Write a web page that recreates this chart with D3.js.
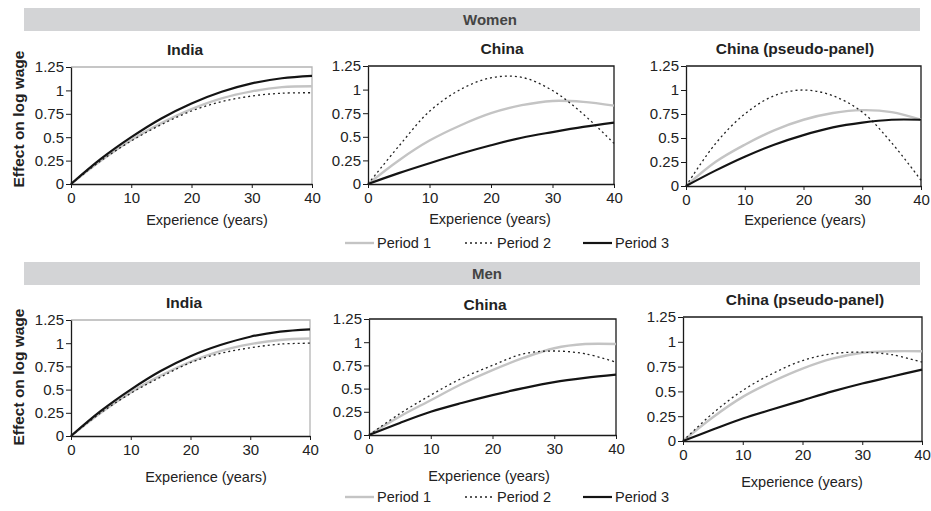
<!DOCTYPE html>
<html lang="en">
	<head>
		<meta charset="utf-8">
		<title>Experience profiles</title>
		<script src="https://d3js.org/d3.v7.min.js"></script>
		<style type="text/css">
			body, html {
				margin: 0;
				background: #fff;
			}
			svg {
				display: block;
				font-family: "Liberation Sans", Arial, sans-serif;
			}
		</style>
	</head>
	<body>
		<svg width="931" height="511"></svg>
		<script type="text/javascript">
		// experience grid (years) and ticks
		var years = [0, 5, 10, 15, 20, 25, 30, 35, 40];
		var xTicks = [0, 10, 20, 30, 40];
		var yTicks = [0, 0.25, 0.5, 0.75, 1, 1.25];
		var yTickLabels = ["0", "0.25", "0.5", "0.75", "1", "1.25"];
		var periods = ["Period 1", "Period 2", "Period 3"];

		// Women
		var womenIndiaP1 = [0, 0.25, 0.47, 0.65, 0.80, 0.915, 0.99, 1.035, 1.045];
		var womenIndiaP2 = [0, 0.25, 0.46, 0.635, 0.78, 0.88, 0.94, 0.97, 0.975];
		var womenIndiaP3 = [0, 0.27, 0.50, 0.70, 0.86, 0.985, 1.075, 1.13, 1.155];
		var womenChinaP1 = [0, 0.25, 0.46, 0.62, 0.75, 0.835, 0.88, 0.87, 0.83];
		var womenChinaP2 = [0, 0.40, 0.77, 1.0, 1.125, 1.13, 0.99, 0.74, 0.43];
		var womenChinaP3 = [0, 0.115, 0.22, 0.32, 0.41, 0.49, 0.55, 0.605, 0.65];
		var womenPseudoP1 = [0, 0.25, 0.43, 0.58, 0.69, 0.76, 0.79, 0.77, 0.69];
		var womenPseudoP2 = [0, 0.44, 0.75, 0.94, 1.0, 0.94, 0.77, 0.45, 0.06];
		var womenPseudoP3 = [0, 0.16, 0.305, 0.43, 0.53, 0.61, 0.66, 0.69, 0.69];

		// Men
		var menIndiaP1 = [0, 0.25, 0.47, 0.65, 0.80, 0.915, 0.99, 1.035, 1.05];
		var menIndiaP2 = [0, 0.25, 0.46, 0.635, 0.79, 0.89, 0.95, 0.99, 1.0];
		var menIndiaP3 = [0, 0.27, 0.50, 0.70, 0.86, 0.98, 1.07, 1.125, 1.15];
		var menChinaP1 = [0, 0.2, 0.375, 0.55, 0.70, 0.83, 0.935, 0.98, 0.98];
		var menChinaP2 = [0, 0.23, 0.43, 0.61, 0.75, 0.875, 0.905, 0.875, 0.785];
		var menChinaP3 = [0, 0.13, 0.25, 0.345, 0.43, 0.505, 0.57, 0.615, 0.65];
		var menPseudoP1 = [0, 0.24, 0.445, 0.60, 0.73, 0.83, 0.89, 0.905, 0.905];
		var menPseudoP2 = [0, 0.28, 0.51, 0.68, 0.81, 0.88, 0.895, 0.87, 0.795];
		var menPseudoP3 = [0, 0.115, 0.227, 0.32, 0.41, 0.50, 0.58, 0.65, 0.72];

		var svg = d3.select("svg");

		// line styles per period
		var styles = [
			{stroke: "#c4c4c4", width: 2.4, dash: null},
			{stroke: "#222", width: 1.3, dash: "2,3"},
			{stroke: "#141414", width: 2.2, dash: null}
		];

		// section banners
		var banners = [
			{text: "Women", y: 8, textX: 490},
			{text: "Men", y: 262, textX: 487}
		];
		banners.forEach(function(b) {
			svg.append("rect")
				.attr("x", 24).attr("y", b.y)
				.attr("width", 896).attr("height", 23)
				.attr("fill", "#d3d4d6");
			svg.append("text")
				.attr("x", b.textX).attr("y", b.y + 17)
				.attr("text-anchor", "middle")
				.style("font-size", "15px").style("font-weight", "bold")
				.attr("fill", "#444")
				.text(b.text);
		});

		// y axis labels
		[119, 377].forEach(function(cy) {
			svg.append("text")
				.attr("transform", "translate(24," + cy + ") rotate(-90)")
				.attr("text-anchor", "middle")
				.style("font-size", "15.5px").style("font-weight", "bold")
				.attr("fill", "#222")
				.text("Effect on log wage");
		});

		var panels = [
			{title: "India", series: [womenIndiaP1, womenIndiaP2, womenIndiaP3], x0: 71, x1: 312, y0: 67, y1: 184, titleX: 185, titleY: 55, labelX: 207, labelY: 225, light: true},
			{title: "China", series: [womenChinaP1, womenChinaP2, womenChinaP3], x0: 368, x1: 614, y0: 66, y1: 184, titleX: 502, titleY: 54, labelX: 490, labelY: 224},
			{title: "China (pseudo-panel)", series: [womenPseudoP1, womenPseudoP2, womenPseudoP3], x0: 686, x1: 921, y0: 66, y1: 186, titleX: 795, titleY: 54, labelX: 805, labelY: 225},
			{title: "India", series: [menIndiaP1, menIndiaP2, menIndiaP3], x0: 71, x1: 310, y0: 320, y1: 436, titleX: 184, titleY: 308, labelX: 206, labelY: 482, light: true},
			{title: "China", series: [menChinaP1, menChinaP2, menChinaP3], x0: 369, x1: 616, y0: 319, y1: 435, titleX: 485, titleY: 310, labelX: 489, labelY: 481},
			{title: "China (pseudo-panel)", series: [menPseudoP1, menPseudoP2, menPseudoP3], x0: 683, x1: 922, y0: 317, y1: 441, titleX: 805, titleY: 305, labelX: 802, labelY: 487}
		];

		panels.forEach(function(p) {
			var x = d3.scaleLinear().domain([0, 40]).range([p.x0, p.x1]);
			var y = d3.scaleLinear().domain([0, 1.25]).range([p.y1, p.y0]);
			var g = svg.append("g");

			// frame (India panels have a lighter top/right edge)
			var edge = p.light ? "#b4b4b4" : "#1a1a1a";
			g.append("path")
				.attr("d", "M" + p.x0 + "," + p.y0 + "H" + p.x1 + "V" + p.y1)
				.attr("fill", "none")
				.attr("stroke", edge)
				.attr("stroke-width", 1.3);

			var line = d3.line()
				.x(function(d, i) { return x(years[i]); })
				.y(function(d) { return y(d); })
				.curve(d3.curveCatmullRom.alpha(0.5));

			p.series.forEach(function(s, i) {
				g.append("path")
					.attr("d", line(s))
					.attr("fill", "none")
					.attr("stroke", styles[i].stroke)
					.attr("stroke-width", styles[i].width)
					.attr("stroke-dasharray", styles[i].dash);
			});

			var xAxis = g.append("g")
				.attr("transform", "translate(0," + p.y1 + ")")
				.call(d3.axisBottom(x).tickValues(xTicks).tickSize(4).tickSizeOuter(0).tickPadding(4));
			var yAxis = g.append("g")
				.attr("transform", "translate(" + p.x0 + ",0)")
				.call(d3.axisLeft(y).tickValues(yTicks).tickSize(5).tickSizeOuter(0).tickPadding(2)
					.tickFormat(function(d, i) { return yTickLabels[i]; }));
			[xAxis, yAxis].forEach(function(a) {
				a.select(".domain").attr("stroke", "#1a1a1a").attr("stroke-width", 1.3);
				a.selectAll(".tick line").attr("stroke", "#1a1a1a");
				a.selectAll("text")
					.style("font-size", "15px")
					.style("font-family", "'Liberation Sans', Arial, sans-serif")
					.attr("fill", "#222");
			});

			g.append("text")
				.attr("x", p.titleX).attr("y", p.titleY)
				.attr("text-anchor", "middle")
				.style("font-size", "15.5px").style("font-weight", "bold")
				.attr("fill", "#222")
				.text(p.title);

			g.append("text")
				.attr("x", p.labelX).attr("y", p.labelY)
				.attr("text-anchor", "middle")
				.style("font-size", "14.5px")
				.attr("fill", "#222")
				.text("Experience (years)");
		});

		// legends under each row
		var legendX = [345, 465, 583];
		[243, 497].forEach(function(ly) {
			periods.forEach(function(name, i) {
				svg.append("line")
					.attr("x1", legendX[i]).attr("x2", legendX[i] + 29)
					.attr("y1", ly).attr("y2", ly)
					.attr("stroke", styles[i].stroke)
					.attr("stroke-width", styles[i].width)
					.attr("stroke-dasharray", styles[i].dash);
				svg.append("text")
					.attr("x", legendX[i] + 32).attr("y", ly + 5)
					.style("font-size", "14.5px")
					.attr("fill", "#222")
					.text(name);
			});
		});
		</script>
	</body>
</html>
